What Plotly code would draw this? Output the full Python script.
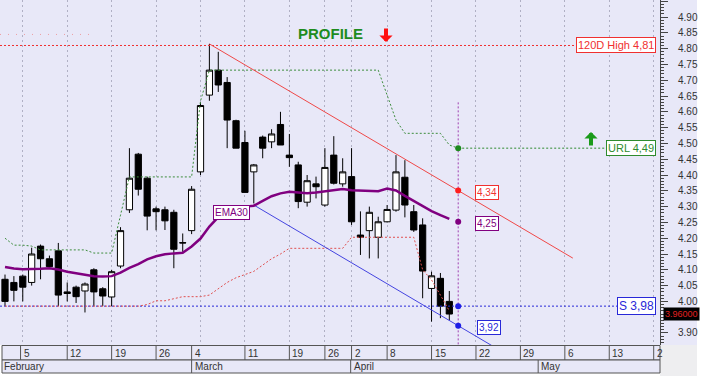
import plotly.graph_objects as go
import numpy as np

# ---------------- data ----------------
candle_idx = list(range(51))
open_ = [4.07, 4.06, 4.08, 4.06, 4.175, 4.135, 4.16, 4.03, 4.045, 4.033, 4.10, 4.04, 4.014, 4.112,
         4.29, 4.466, 4.39, 4.293, 4.29, 4.282, 4.186, 4.224, 4.41, 4.653, 4.732, 4.693, 4.572,
         4.503, 4.41, 4.52, 4.505, 4.56, 4.463, 4.432, 4.314, 4.372, 4.305, 4.463, 4.372, 4.395,
         4.21, 4.224, 4.203, 4.252, 4.289, 4.393, 4.284, 4.242, 4.041, 4.073, 4.00]
high = [4.085, 4.08, 4.085, 4.17, 4.18, 4.145, 4.185, 4.06, 4.05, 4.06, 4.105, 4.045, 4.10, 4.235,
        4.485, 4.47, 4.395, 4.30, 4.30, 4.29, 4.215, 4.365, 4.63, 4.815, 4.79, 4.71, 4.575,
        4.54, 4.435, 4.525, 4.545, 4.60, 4.53, 4.442, 4.40, 4.395, 4.485, 4.523, 4.453, 4.485,
        4.285, 4.30, 4.268, 4.305, 4.463, 4.447, 4.305, 4.263, 4.094, 4.09, 4.033]
low = [3.985, 4.00, 4.00, 4.05, 4.07, 4.105, 3.985, 4.00, 3.995, 3.965, 3.985, 3.985, 3.985, 4.105,
       4.28, 4.335, 4.225, 4.225, 4.226, 4.105, 4.157, 4.213, 4.40, 4.635, 4.663, 4.485, 4.485,
       4.345, 4.31, 4.453, 4.485, 4.495, 4.426, 4.295, 4.30, 4.326, 4.30, 4.37, 4.363, 4.242,
       4.147, 4.136, 4.136, 4.25, 4.284, 4.266, 4.22, 4.01, 3.936, 3.947, 3.94]
close = [4.00, 4.035, 4.045, 4.15, 4.135, 4.11, 4.02, 4.025, 4.015, 4.055, 4.03, 4.017, 4.094, 4.224,
         4.39, 4.355, 4.27, 4.284, 4.255, 4.165, 4.185, 4.355, 4.62, 4.732, 4.685, 4.574, 4.485,
         4.345, 4.432, 4.485, 4.53, 4.495, 4.455, 4.316, 4.382, 4.363, 4.424, 4.374, 4.41, 4.252,
         4.203, 4.282, 4.252, 4.291, 4.41, 4.305, 4.226, 4.096, 4.081, 3.985, 3.96]
ema30 = [4.109, 4.104, 4.102, 4.102, 4.103, 4.105, 4.101, 4.094, 4.09, 4.086, 4.08, 4.079, 4.08,
         4.091, 4.106, 4.118, 4.133, 4.143, 4.149, 4.152, 4.154, 4.174, 4.199, 4.237, 4.267, 4.286,
         4.296, 4.30, 4.303, 4.318, 4.333, 4.342, 4.347, 4.345, 4.342, 4.345, 4.349, 4.354, 4.356,
         4.352, 4.351, 4.348, 4.349, 4.357, 4.351, 4.334, 4.318, 4.30, 4.286, 4.273, 4.261]
band_idx = list(range(52))
upper_band = [4.20, 4.178, 4.178, 4.175, 4.163, 4.163, 4.163, 4.163, 4.163, 4.163, 4.153, 4.153,
              4.153, 4.273, 4.394, 4.394, 4.394, 4.394, 4.394, 4.394, 4.394, 4.394, 4.634, 4.732,
              4.732, 4.732, 4.732, 4.732, 4.732, 4.732, 4.732, 4.732, 4.732, 4.732, 4.732, 4.732,
              4.732, 4.732, 4.732, 4.732, 4.732, 4.732, 4.732, 4.653, 4.574, 4.532, 4.532, 4.532,
              4.532, 4.532, 4.495, 4.485]
lower_band = [3.985, 3.985, 3.985, 3.985, 3.985, 3.985, 3.985, 3.985, 3.985, 3.985, 3.985, 3.985,
              3.985, 3.985, 3.985, 3.985, 3.99, 4.002, 4.002, 4.008, 4.015, 4.015, 4.015, 4.02,
              4.04, 4.06, 4.075, 4.085, 4.095, 4.115, 4.135, 4.15, 4.168, 4.168, 4.168, 4.168,
              4.168, 4.168, 4.168, 4.203, 4.203, 4.203, 4.203, 4.203, 4.203, 4.203, 4.203, 4.10,
              4.068, 4.02, 3.97]
high_120d = 4.81
prev_high = 4.845
support = 3.985
url_level = 4.485
ema_proj = 4.252
last_close = 3.96
proj_idx = 51
trend_hi_x = [23, 63.9]
trend_hi_y = [4.815, 4.137]
trend_lo_x = [28, 56]
trend_lo_y = [4.305, 3.84]

y_tick_vals = [3.90, 3.95, 4.00, 4.05, 4.10, 4.15, 4.20, 4.25, 4.30, 4.35, 4.40, 4.45, 4.50,
               4.55, 4.60, 4.65, 4.70, 4.75, 4.80, 4.85, 4.90, 4.95]
y_tick_text = ['3.90', '', '4.00', '4.05', '4.10', '4.15', '4.20', '4.25', '4.30', '4.35', '4.40',
               '4.45', '4.50', '4.55', '4.60', '4.65', '4.70', '4.75', '4.80', '4.85', '4.90', '4.95']

grid_idx = [2, 7, 12, 17, 22, 27, 32, 36, 39, 43, 48, 53, 58, 63, 68, 73]
day_sep_idx = [1.75, 7, 12, 17, 21, 27, 32, 36, 39, 43, 48, 53, 58, 63, 68, 73]
day_labels = ['5', '12', '19', '26', '4', '11', '19', '26', '2', '8', '15', '22', '29', '6', '13', '2']
month_idx = [-0.5, 21, 38.9, 60]
month_labels = ['February', 'March', 'April', 'May']

# ---------------- layout helpers ----------------
W, H = 706, 376
ML, MR, MT, MB = 0, 46, 0, 31
PW, PH = W - ML - MR, H - MT - MB
XR = [-0.563, 73.71]
YR = [3.862, 4.954]
LAV = '#E8E8F8'
FONT = 'Liberation Sans, Arial, sans-serif'
RED, GREEN, BLUE, PURPLE = '#F03030', '#2E8B2E', '#2828D8', '#800080'


def px_x(px):
    return (px - ML) / PW


def px_y(py):
    return (MT + PH - py) / PH


fig = go.Figure()

# indicator lines
fig.add_trace(go.Scatter(x=[XR[0], 10], y=[prev_high, prev_high], mode='lines',
                         line=dict(color='#F08080', width=1, dash='1px,7px'), opacity=0.7,
                         hoverinfo='skip'))
fig.add_trace(go.Scatter(x=[XR[0], 65.05], y=[high_120d, high_120d], mode='lines',
                         line=dict(color=RED, width=1, dash='2px,2px'), hoverinfo='skip'))
fig.add_trace(go.Scatter(x=[XR[0], 69.4], y=[support, support], mode='lines',
                         line=dict(color=BLUE, width=1, dash='2px,2px'), hoverinfo='skip'))
fig.add_trace(go.Scatter(x=candle_idx, y=lower_band, mode='lines',
                         line=dict(color='#E05050', width=1, dash='2px,2px'), hoverinfo='skip'))
fig.add_trace(go.Scatter(x=band_idx, y=upper_band, mode='lines',
                         line=dict(color='#3C8C3C', width=1, dash='2px,2px'), hoverinfo='skip'))
fig.add_trace(go.Scatter(x=[proj_idx, 67.5], y=[url_level, url_level], mode='lines',
                         line=dict(color=GREEN, width=1, dash='2px,2px'), hoverinfo='skip'))
fig.add_trace(go.Scatter(x=[proj_idx, proj_idx], y=[4.63, YR[0]], mode='lines',
                         line=dict(color='#A040B0', width=1, dash='2px,2px'), hoverinfo='skip'))
fig.add_trace(go.Scatter(x=trend_hi_x, y=trend_hi_y, mode='lines',
                         line=dict(color='#F04848', width=1), hoverinfo='skip'))
fig.add_trace(go.Scatter(x=trend_lo_x, y=trend_lo_y, mode='lines',
                         line=dict(color='#4444E0', width=1), hoverinfo='skip'))

# candles
fig.add_trace(go.Candlestick(
    x=candle_idx, open=open_, high=high, low=low, close=close,
    increasing=dict(line=dict(color='black', width=1), fillcolor='white'),
    decreasing=dict(line=dict(color='black', width=1), fillcolor='black'),
    whiskerwidth=0, hoverinfo='skip'))

# EMA
fig.add_trace(go.Scatter(x=candle_idx, y=ema30, mode='lines',
                         line=dict(color=PURPLE, width=2.5), hoverinfo='skip'))

# projection dots
red_proj = float(np.interp(proj_idx, trend_hi_x, trend_hi_y))
blue_proj = float(np.interp(proj_idx, trend_lo_x, trend_lo_y))
fig.add_trace(go.Scatter(x=[proj_idx] * 5, y=[url_level, red_proj, ema_proj, support, blue_proj],
                         mode='markers',
                         marker=dict(size=6, color=['#1E8A1E', '#FF1E1E', PURPLE, '#1E1EE6', '#1E1EE6']),
                         hoverinfo='skip'))

shapes = []
# right axis background and corner
shapes.append(dict(type='rect', xref='paper', yref='paper', x0=1, x1=px_x(697), y0=0, y1=1,
                   fillcolor=LAV, line=dict(width=0), layer='below'))
shapes.append(dict(type='rect', xref='paper', yref='paper', x0=1, x1=px_x(697), y0=px_y(376), y1=0,
                   fillcolor='#EEEEF0', line=dict(width=0), layer='below'))
# date rows
shapes.append(dict(type='rect', xref='paper', yref='paper', x0=px_x(2), x1=1, y0=px_y(360), y1=px_y(345.5),
                   fillcolor=LAV, line=dict(color='#555', width=1), layer='below'))
shapes.append(dict(type='rect', xref='paper', yref='paper', x0=px_x(2), x1=1, y0=px_y(373), y1=px_y(360),
                   fillcolor=LAV, line=dict(color='#555', width=1), layer='below'))
for s in day_sep_idx:
    shapes.append(dict(type='line', xref='x', yref='paper', x0=s, x1=s, y0=px_y(360), y1=px_y(345.5),
                       line=dict(color='#555', width=1)))
for s in month_idx[1:]:
    shapes.append(dict(type='line', xref='x', yref='paper', x0=s, x1=s, y0=px_y(373), y1=px_y(360),
                       line=dict(color='#555', width=1)))

ann = []
for s, t in zip(day_sep_idx, day_labels):
    ann.append(dict(xref='x', yref='paper', x=s, y=px_y(353), text=t, showarrow=False,
                    xanchor='left', yanchor='middle', xshift=1,
                    font=dict(family=FONT, size=10, color='#333')))
for s, t in zip(month_idx, month_labels):
    ann.append(dict(xref='x', yref='paper', x=s, y=px_y(366.5), text=t, showarrow=False,
                    xanchor='left', yanchor='middle', xshift=1,
                    font=dict(family=FONT, size=10, color='#333')))


def box_label(x, y, text, color, xanchor, size=11):
    return dict(xref='x', yref='y', x=x, y=y, text=text, showarrow=False, xanchor=xanchor,
                yanchor='middle', bgcolor='white', bordercolor=color, borderwidth=1, borderpad=1,
                font=dict(family=FONT, size=size, color=color))


ann.append(box_label(73.26, high_120d, '120D High 4,81', RED, 'right'))
ann.append(box_label(73.26, url_level, 'URL 4,49', GREEN, 'right'))
ann.append(box_label(73.26, support, 'S 3,98', BLUE, 'right', 12))
ann.append(box_label(52.9, 4.346, '4,34', RED, 'left', 10))
ann.append(box_label(52.9, 4.248, '4,25', PURPLE, 'left', 10))
ann.append(box_label(53.1, 3.917, '3,92', BLUE, 'left', 10))
ann.append(box_label(25.5, 4.280, 'EMA30', PURPLE, 'center', 10))
# last price tag
ann.append(dict(xref='paper', yref='y', x=px_x(663), y=last_close, text='3.96000', showarrow=False,
                xanchor='left', yanchor='middle', bgcolor='black', borderpad=1,
                font=dict(family=FONT, size=9, color='#E02020')))
# title and arrows
ann.append(dict(xref='paper', yref='paper', x=px_x(330), y=px_y(34), text='<b>PROFILE</b>',
                showarrow=False, xanchor='center', yanchor='middle',
                font=dict(family=FONT, size=15, color='#1E8C1E')))
ann.append(dict(xref='paper', yref='paper', x=px_x(386), y=px_y(42), text='', showarrow=True,
                ax=0, ay=-15, arrowhead=1, arrowwidth=4, arrowsize=0.55, arrowcolor='#FF1010',
                standoff=0))
ann.append(dict(xref='paper', yref='paper', x=px_x(591), y=px_y(132), text='', showarrow=True,
                ax=0, ay=15, arrowhead=1, arrowwidth=4, arrowsize=0.55, arrowcolor='#1A9A1A',
                standoff=0))

fig.update_layout(
    template='none',
    width=W, height=H,
    margin=dict(l=ML, r=MR, t=MT, b=MB, pad=0),
    paper_bgcolor='white', plot_bgcolor=LAV,
    showlegend=False, hovermode=False,
    boxgap=0.3, boxgroupgap=0,
    shapes=shapes, annotations=ann,
    xaxis=dict(range=XR, tickvals=grid_idx, showticklabels=False, ticks='', showgrid=True,
               gridcolor='#B0B0C4', griddash='2px,3px', gridwidth=1, zeroline=False,
               showline=False, rangeslider=dict(visible=False), automargin=False),
    yaxis=dict(side='right', range=YR, tickmode='array', tickvals=y_tick_vals, ticktext=y_tick_text,
               ticks='outside', ticklen=7, tickcolor='#444', showline=True, linecolor='#444',
               linewidth=1, showgrid=False, zeroline=False, automargin=False, ticklabelstandoff=8,
               tickfont=dict(family=FONT, size=10, color='#333'),
               minor=dict(dtick=0.01, tick0=0, ticks='outside', ticklen=3, tickcolor='#444',
                          showgrid=False)),
)

fig.write_html('out.html')
